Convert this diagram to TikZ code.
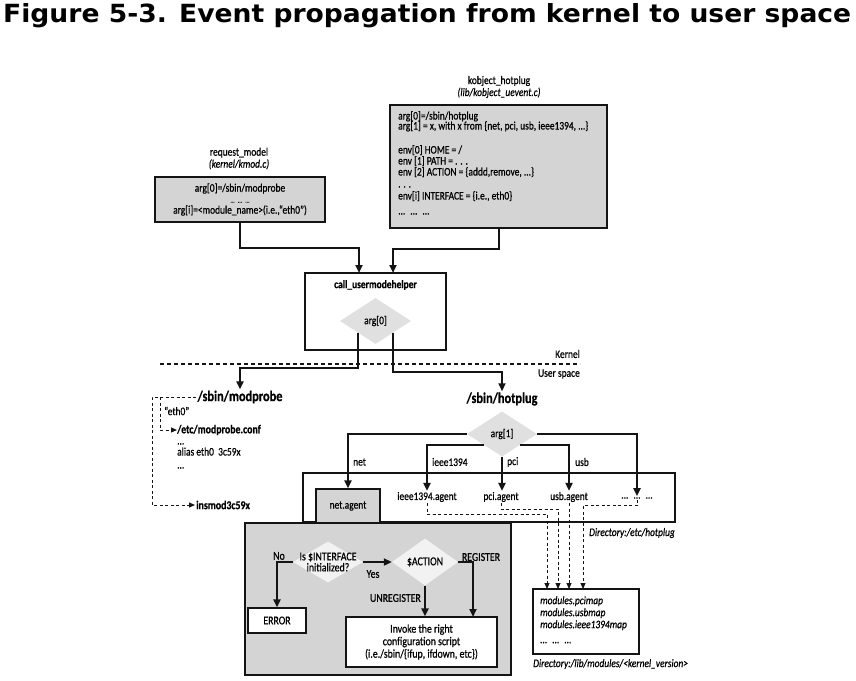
\documentclass[tikz,border=0pt]{standalone}
\usepackage{graphicx}
\usepackage{fontspec}
\setmainfont{Carlito}[FakeStretch=0.82, FakeBold=0.6]
\newfontfamily\titlefont{DejaVu Sans}
\usetikzlibrary{positioning, arrows.meta, shapes.geometric, calc}
\definecolor{BoxGray}{RGB}{212,212,212}
\definecolor{DiaGray}{RGB}{224,224,224}
\definecolor{DiaLight}{RGB}{242,242,242}
\definecolor{InkColor}{RGB}{20,20,20}
\tikzstyle{flow} = [line width=2pt, InkColor, -{Triangle[length=8pt,width=7pt]}]
\tikzstyle{link} = [line width=1pt, InkColor, dash pattern=on 3pt off 2.5pt, -{Triangle[length=6pt,width=5pt]}]

\begin{document}
\begin{tikzpicture}[x=1pt, y=-1pt,
        graybox/.style={draw=InkColor, fill=BoxGray, line width=1.1pt, inner sep=0pt},
        whitebox/.style={draw=InkColor, fill=white, line width=1.1pt, inner sep=0pt},
        choice/.style={diamond, fill=#1, inner sep=0pt, aspect=1.5},
        txt/.style={inner sep=1pt, font=\fontsize{11.5}{11}\selectfont},
        big/.style={inner sep=1pt, font=\fontsize{12}{12.5}\selectfont},
        head/.style={inner sep=1pt, font=\fontsize{15}{16}\selectfont\bfseries}
    ]
        \useasboundingbox (0,0) rectangle (856,680);

        \node[anchor=base west, inner sep=0pt] (title) at (3,22) {\resizebox{848pt}{19pt}{\titlefont\bfseries Figure 5-3. Event propagation from kernel to user space}};

        % kernel side
        \node[txt, align=center, font=\fontsize{11.5}{12}\selectfont] (kobjlbl) at (499,87) {kobject\_hotplug\\\textit{(lib/kobject\_uevent.c)}};
        \node[graybox, minimum width=217pt, minimum height=123pt] (kobj) at (498.5,166.5) {};
        \node[txt, anchor=north west, align=left, inner sep=0pt] (kobjtxt) at (398,111) {arg[0]=/sbin/hotplug\\[-1pt]
            arg[1] = x, with x from \{net, pci, usb, ieee1394, ...\}\\[13pt]
            env[0] HOME = /\\
            env [1] PATH = . . .\\
            env [2] ACTION = \{addd,remove, ...\}\\[1pt]
            . . .\\[1pt]
            env[i] INTERFACE = \{i.e., eth0\}\\[4pt]
            ... \ ... \ ...};

        \node[txt, align=center, font=\fontsize{11.5}{12}\selectfont] (reqlbl) at (239,158.5) {request\_model\\\textit{(kernel/kmod.c)}};
        \node[graybox, txt, minimum width=170pt, minimum height=45pt, align=center] (req) at (240,199.5) {arg[0]=/sbin/modprobe\\
            {\scriptsize ... \ ... \ ...}\\
            arg[i]=<module\_name>(i.e.,“eth0”)};

        \node[whitebox, minimum width=141pt, minimum height=77pt] (cuh) at (375.5,311.5) {};
        \node[txt, font=\fontsize{11.5}{12}\selectfont\bfseries] (cuhlbl) at (375.5,285) {call\_usermodehelper};
        \node[choice=DiaGray, txt, minimum width=71pt, minimum height=46pt] (arg0) at (375.5,321) {arg[0]};

        \coordinate (cuhin1) at (359,273);
        \coordinate (cuhin2) at (393,273);
        \draw[flow] (req.south) -- ++(0,25) -| (cuhin1);
        \draw[flow] (kobj.south) -- ++(0,20) -| (cuhin2);

        \coordinate (kleft) at (160,364);
        \coordinate (kright) at (580,364);
        \draw[InkColor, line width=1.8pt, dash pattern=on 4pt off 3pt] (kleft) -- (kright);
        \node[txt, anchor=east] (kernlbl) at (581,354) {Kernel};
        \node[txt, anchor=east] (userlbl) at (581,374) {User space};

        % user space: modprobe
        \node[head] (modprobe) at (240,397) {/sbin/modprobe};
        \node[head] (hotplug) at (502,399) {/sbin/hotplug};
        \draw[flow] (arg0.south west) -- ++(0,35) -| (modprobe.north);
        \draw[flow] (arg0.south east) -- ++(0,39) -| (hotplug.north);

        \node[txt, anchor=west] (eth0lbl) at (163,411) {“eth0”};
        \node[big, anchor=west, inner sep=0pt, font=\fontsize{12}{12}\selectfont\bfseries] (modconf) at (177,430) {/etc/modprobe.conf};
        \node[txt, anchor=north west, align=left, inner sep=0pt] (aliastxt) at (177,443) {...\\alias eth0 \ 3c59x\\[2pt]...};
        \node[big, anchor=west, font=\fontsize{12}{12}\selectfont\bfseries] (insmod) at (195,505) {insmod3c59x};
        \coordinate (mpfork) at (160,397);
        \draw[link] (modprobe.west) -- ++(-44,0) |- (insmod.west);
        \draw[link] (mpfork) |- (modconf.west);

        % user space: hotplug
        \node[choice=DiaGray, txt, minimum width=70pt, minimum height=45pt] (arg1) at (502,434) {arg[1]};
        \node[whitebox, minimum width=372pt, minimum height=49pt] (hpdir) at (489,497.5) {};
        \node[graybox, minimum width=266pt, minimum height=152pt] (netbox) at (378,599) {};
        \node[graybox, txt, minimum width=64pt, minimum height=34pt] (netag) at (348,506) {net.agent};
        \node[txt] (ieeeag) at (427,497) {ieee1394.agent};
        \node[txt] (pciag) at (501,497) {pci.agent};
        \node[txt] (usbag) at (569,497) {usb.agent};
        \node[txt] (dotsag) at (637,498) {... \ ... \ ...};

        \draw[flow] (arg1.west) -| (netag.north);
        \draw[flow] (arg1.south west) -| (ieeeag.north);
        \draw[flow] (arg1.south) -- (arg1.south |- pciag.north);
        \draw[flow] (arg1.south east) -| (usbag.north);
        \draw[flow] (arg1.east) -| (dotsag.north);
        \node[txt, anchor=west] (netlbl) at (352,462) {net};
        \node[txt, anchor=west] (ieeelbl) at (431,462) {ieee1394};
        \node[txt, anchor=west] (pcilbl) at (506,462) {pci};
        \node[txt, anchor=west] (usblbl) at (574,462) {usb};
        \node[txt, anchor=east] (hpdirlbl) at (676,533) {\textit{Directory:/etc/hotplug}};

        \node[whitebox, minimum width=106pt, minimum height=65pt] (modmap) at (586,621.5) {};
        \node[txt, anchor=north west, align=left, inner sep=0pt, font=\fontsize{11.5}{12}\selectfont\itshape] (modtxt) at (540,596) {modules.pcimap\\modules.usbmap\\modules.ieee1394map\\[3pt]... \ ... \ ...};
        \node[txt, anchor=west] (modslbl) at (532,664) {\textit{Directory:/lib/modules/<kernel\_version>}};

        \coordinate (mapin1) at (547,589);
        \coordinate (mapin2) at (558,589);
        \coordinate (mapin3) at (569,589);
        \coordinate (mapin4) at (583,589);
        \draw[link] (ieeeag.south) -- ++(0,11) -| (mapin1);
        \draw[link] (pciag.south) -- ++(0,6) -| (mapin2);
        \draw[link] (usbag.south) -- (mapin3);
        \draw[link] (dotsag.south) -- ++(0,6) -| (mapin4);

        % net.agent flow
        \node[choice=DiaLight, minimum width=70pt, minimum height=41pt] (ifdia) at (328,562) {};
        \node[big, align=center, font=\fontsize{12}{11}\selectfont] (iftxt) at (ifdia) {Is \$INTERFACE\\initialized?};
        \node[choice=DiaLight, big, minimum width=66pt, minimum height=47pt] (actdia) at (425,562) {\$ACTION};
        \node[whitebox, big, minimum width=58pt, minimum height=25pt] (errbox) at (277,620.5) {ERROR};
        \node[whitebox, big, minimum width=151pt, minimum height=50pt, align=center] (invbox) at (421.5,642) {Invoke the right\\configuration script\\(i.e./sbin/\{ifup, ifdown, etc\})};
        \coordinate (invin2) at (473,617);

        \draw[flow] (ifdia.west) -| (errbox.north);
        \draw[flow] (ifdia.east) -- (actdia.west);
        \draw[flow] (actdia.south) -- (actdia.south |- invbox.north);
        \draw[flow] (actdia.east) -| (invin2);
        \node[big, anchor=south] (nolbl) at (279,561) {No};
        \node[big] (yeslbl) at (373,574) {Yes};
        \node[big] (reglbl) at (481,557) {REGISTER};
        \node[big, anchor=east] (unreglbl) at (422,598) {UNREGISTER};
    \end{tikzpicture}
\end{document}
